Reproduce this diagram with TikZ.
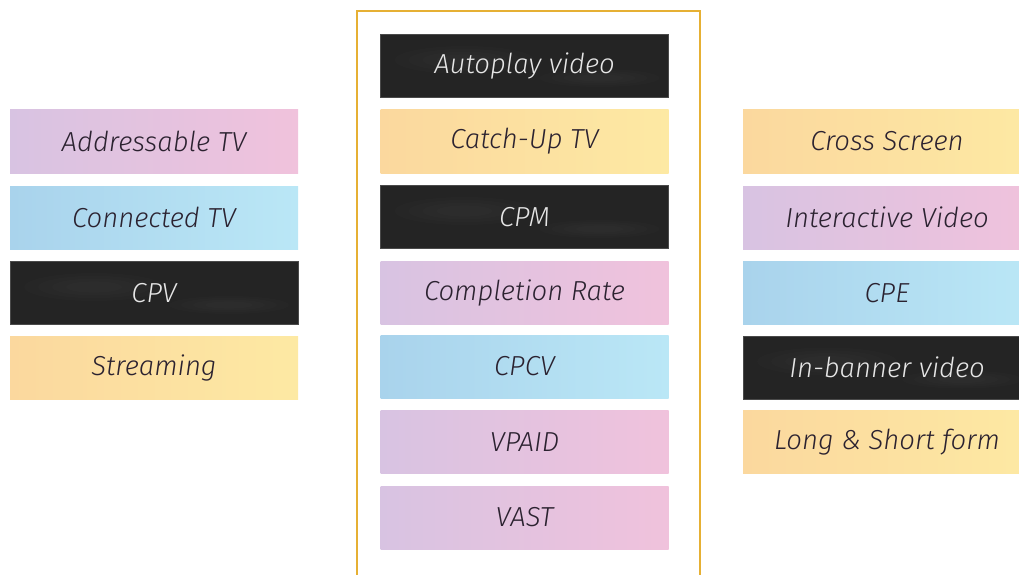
\documentclass[tikz,border=0pt]{standalone}
\usepackage{fontspec}
\newfontfamily\boxfont{Fira Sans Light Italic}
\usetikzlibrary{positioning}

\definecolor{lilacL}{HTML}{D8C3E2}
\definecolor{lilacR}{HTML}{F0C2DC}
\definecolor{skyL}{HTML}{A9D3EC}
\definecolor{skyR}{HTML}{BAE7F6}
\definecolor{sandL}{HTML}{FBD89E}
\definecolor{sandR}{HTML}{FDE9A3}
\definecolor{chalk}{HTML}{242424}
\definecolor{chalkEdge}{HTML}{4A4A4A}
\definecolor{inkDark}{HTML}{2B2230}
\definecolor{inkLight}{HTML}{E6E6E6}
\definecolor{frameGold}{HTML}{E6B034}

\tikzset{
  tag/.style={rectangle, minimum width=288pt, minimum height=63pt,
    inner sep=0pt, font=\boxfont\fontsize{27.5}{32}\selectfont},
  pinktag/.style={tag, left color=lilacL, right color=lilacR, text=inkDark},
  bluetag/.style={tag, left color=skyL, right color=skyR, text=inkDark},
  yellowtag/.style={tag, left color=sandL, right color=sandR, text=inkDark},
  smudge/.style={white, opacity=0.012},
  chalktag/.style={tag, fill=chalk, draw=chalkEdge, line width=0.6pt, text=inkLight,
    path picture={
      \foreach \s in {1,0.8,0.6,0.4}{
        \fill[smudge] ([xshift=-60pt,yshift=6pt]path picture bounding box.center) ellipse (70*\s pt and 14*\s pt);
        \fill[smudge] ([xshift=75pt,yshift=-12pt]path picture bounding box.center) ellipse (60*\s pt and 9*\s pt);
      }
    }},
  goldframe/.style={draw=frameGold, line width=2.8pt},
}

\begin{document}
\begin{tikzpicture}[x=1pt, y=-1pt]
  \useasboundingbox (0,0) rectangle (1019,575);
  \clip (0,0) rectangle (1019,575);

  % left column
  \node[pinktag]   (addr)   at (154,141.5) {Addressable TV};
  \node[bluetag]   (conn)   at (154,217.5) {Connected TV};
  \node[chalktag]  (cpv)    at (154,293)   {CPV};
  \node[yellowtag] (stream) at (154,367.5) {Streaming};

  % framed centre column
  \draw[goldframe] (357,11) rectangle (700,600);
  \node[chalktag]  (auto)   at (524.5,66)    {Autoplay video};
  \node[yellowtag] (catch)  at (524.5,141.5) {Catch-Up TV};
  \node[chalktag]  (cpm)    at (524.5,217)   {CPM};
  \node[pinktag]   (compl)  at (524.5,293)   {Completion Rate};
  \node[bluetag]   (cpcv)   at (524.5,366.5) {CPCV};
  \node[pinktag]   (vpaid)  at (524.5,442)   {VPAID};
  \node[pinktag]   (vast)   at (524.5,517.5) {VAST};

  % right column
  \node[yellowtag] (cross)  at (887,141.5) {Cross Screen};
  \node[pinktag]   (inter)  at (887,217.5) {Interactive Video};
  \node[bluetag]   (cpe)    at (887,293)   {CPE};
  \node[chalktag]  (banner) at (887,367.5) {In-banner video};
  \node[yellowtag] (form)   at (887,442)   {Long \& Short form};
\end{tikzpicture}
\end{document}
